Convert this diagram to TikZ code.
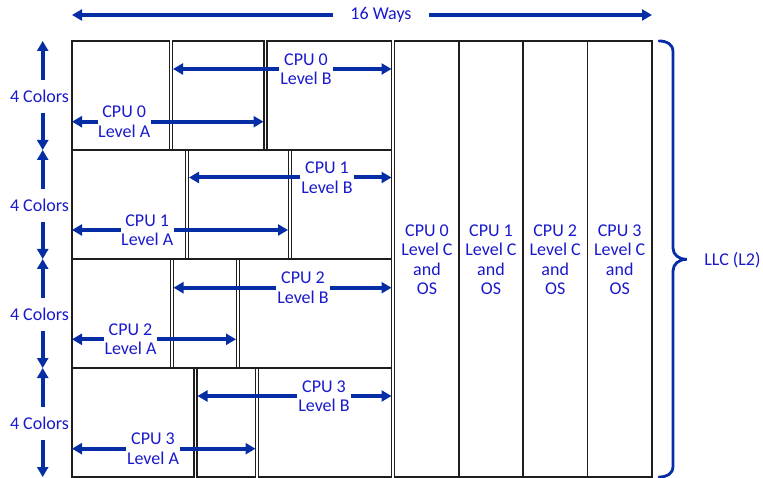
\documentclass[tikz,border=0pt]{standalone}
\usepackage{fontspec}
\setmainfont{Carlito}
\usetikzlibrary{arrows.meta}
\definecolor{txtblue}{RGB}{25,25,205}
\definecolor{arrblue}{RGB}{5,45,165}
\definecolor{cellline}{RGB}{30,30,30}
\tikzset{
  cell/.style={draw=cellline, line width=1.4pt},
  arr/.style={draw=arrblue, line width=4pt, -{Triangle[length=10pt,width=11pt]}},
  lbl/.style={text=txtblue, font=\fontsize{18}{19.5}\selectfont, align=center, inner sep=0pt},
  lvl/.style={lbl, minimum width=53pt},
  colorlbl/.style={lbl, minimum height=33pt},
  bracestyle/.style={draw=arrblue, line width=2.8pt, line cap=round}
}
\begin{document}
\begin{tikzpicture}[x=1pt,y=-1pt]
\useasboundingbox (0,0) rectangle (763,478);
% ---- left rows of cells
% row 1
\draw[cell] (72,41) rectangle (169.5,150);
\draw[cell] (172.5,41) rectangle (264,150);
\draw[cell] (267,41) rectangle (391.5,150);
% row 2
\draw[cell] (72,150) rectangle (185.7,259);
\draw[cell] (188.7,150) rectangle (288.3,259);
\draw[cell] (291.3,150) rectangle (391.5,259);
% row 3
\draw[cell] (72,259) rectangle (170.3,368);
\draw[cell] (173.3,259) rectangle (236.3,368);
\draw[cell] (239.3,259) rectangle (391.5,368);
% row 4
\draw[cell] (72,368) rectangle (194,477);
\draw[cell] (197,368) rectangle (255.7,477);
\draw[cell] (258.7,368) rectangle (391.5,477);
% ---- right columns
\draw[cell] (394.5,41) rectangle (459,477);
\draw[cell] (459,41) rectangle (523,477);
\draw[cell] (523,41) rectangle (587.5,477);
\draw[cell] (587.5,41) rectangle (652,477);

\node[lbl] (c0) at (427,259.5) {CPU 0\\Level C\\and\\OS};
\node[lbl] (c1) at (491,259.5) {CPU 1\\Level C\\and\\OS};
\node[lbl] (c2) at (555.2,259.5) {CPU 2\\Level C\\and\\OS};
\node[lbl] (c3) at (619.7,259.5) {CPU 3\\Level C\\and\\OS};

% ---- top arrow
\node[lbl, minimum width=96pt] (ways) at (381,15) {16 Ways};
\coordinate (wl) at (72,15);
\coordinate (wr) at (652,15);
\draw[arr] (ways.west) -- (wl);
\draw[arr] (ways.east) -- (wr);

% ---- left vertical arrows
\foreach \i/\top/\bot in {1/41/150, 2/150/259, 3/259/368, 4/368/477}{
  \coordinate (t\i) at (42.7,\top);
  \coordinate (b\i) at (42.7,\bot);
  \node[colorlbl] (col\i) at (39.5,{(\top+\bot)/2+1}) {4 Colors};
  \draw[arr] (col\i.north -| t\i) -- (t\i);
  \draw[arr] (col\i.south -| b\i) -- (b\i);
}

% ---- level arrows
% row 1
\node[lvl] (a1) at (124.2,121.7) {CPU 0\\Level A};
\coordinate (a1l) at (72,121.7); \coordinate (a1r) at (263.5,121.7);
\draw[arr] (a1.west) -- (a1l); \draw[arr] (a1.east) -- (a1r);
\node[lvl] (bb1) at (306,69) {CPU 0\\Level B};
\coordinate (b1l) at (173,69); \coordinate (b1r) at (391.5,69);
\draw[arr] (bb1.west) -- (b1l); \draw[arr] (bb1.east) -- (b1r);
% row 2
\node[lvl] (bb2) at (327,177.5) {CPU 1\\Level B};
\coordinate (b2l) at (189,177.5); \coordinate (b2r) at (391.5,177.5);
\draw[arr] (bb2.west) -- (b2l); \draw[arr] (bb2.east) -- (b2r);
\node[lvl] (a2) at (147.2,230) {CPU 1\\Level A};
\coordinate (a2l) at (72,230); \coordinate (a2r) at (288,230);
\draw[arr] (a2.west) -- (a2l); \draw[arr] (a2.east) -- (a2r);
% row 3
\node[lvl] (bb3) at (303,287.7) {CPU 2\\Level B};
\coordinate (b3l) at (173.5,287.7); \coordinate (b3r) at (391.5,287.7);
\draw[arr] (bb3.west) -- (b3l); \draw[arr] (bb3.east) -- (b3r);
\node[lvl] (a3) at (130.5,339.3) {CPU 2\\Level A};
\coordinate (a3l) at (72,339.3); \coordinate (a3r) at (236,339.3);
\draw[arr] (a3.west) -- (a3l); \draw[arr] (a3.east) -- (a3r);
% row 4
\node[lvl] (bb4) at (324,396) {CPU 3\\Level B};
\coordinate (b4l) at (197.5,396); \coordinate (b4r) at (391.5,396);
\draw[arr] (bb4.west) -- (b4l); \draw[arr] (bb4.east) -- (b4r);
\node[lvl] (a4) at (153,448.7) {CPU 3\\Level A};
\coordinate (a4l) at (72,448.7); \coordinate (a4r) at (255.5,448.7);
\draw[arr] (a4.west) -- (a4l); \draw[arr] (a4.east) -- (a4r);

% ---- brace
\draw[bracestyle] (659,41) .. controls (667,41) and (673,44) .. (673,52)
  -- (673,248) .. controls (673,255) and (679,259.3) .. (686.7,259.3)
  .. controls (679,259.3) and (673,264) .. (673,271)
  -- (673,466) .. controls (673,474) and (667,477) .. (659,477);
\node[lbl] (llc) at (732.5,260) {LLC (L2)};
\end{tikzpicture}
\end{document}
